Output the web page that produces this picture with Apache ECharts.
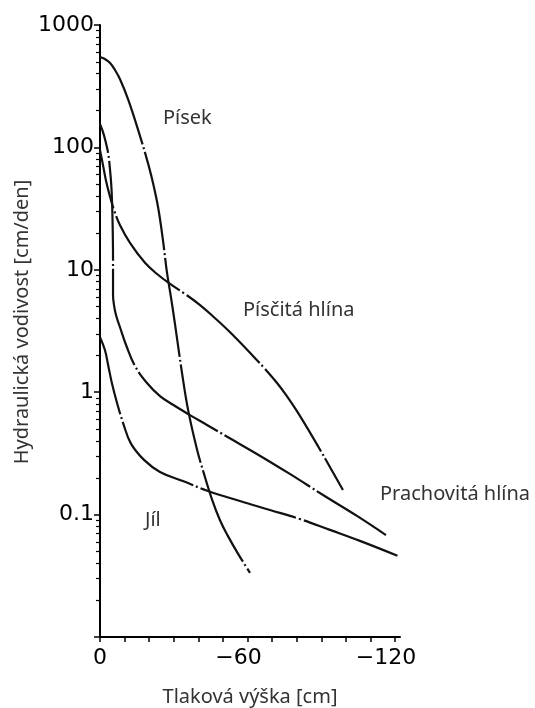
<!DOCTYPE html>
<html><head><meta charset="utf-8">
<script src="https://cdn.jsdelivr.net/npm/echarts@6/dist/echarts.min.js"></script>
<style>html,body{margin:0;padding:0;background:#fff}#c{width:535px;height:708px}</style>
</head><body><div id="c"></div>
<script>
// ---- data: pressure head h [cm] and hydraulic conductivity K [cm/den] ----
const sandH = [0, -2.0, -4.1, -6.1, -8.1, -11.4, -15.4, -18.7, -21.1, -23.6, -25.6, -27.2, -28.9, -30.5, -33.3, -35.8, -39.4, -42.3, -45.5, -48.8, -52.0, -56.1, -61.0];
const sandK = [548, 527, 490, 429, 362, 248, 141, 85, 56, 32.6, 17.5, 9.6, 5.9, 3.6, 1.46, 0.72, 0.344, 0.215, 0.134, 0.090, 0.067, 0.048, 0.0334];

const sandyLoamH = [0, -1.2, -2.4, -4.1, -5.7, -8.1, -12.2, -18.3, -23.2, -28.5, -34.6, -40.7, -46.7, -52.8, -62.2, -67.1, -72.0, -76.0, -80.1, -86.2, -92.3, -98.8];
const sandyLoamK = [95, 72, 54, 39.4, 30.8, 23.2, 16.6, 11.4, 9.24, 7.66, 6.34, 5.15, 4.04, 3.10, 1.98, 1.55, 1.19, 0.93, 0.70, 0.44, 0.27, 0.159];

const siltLoamH = [0, -1.2, -2.4, -3.3, -4.1, -4.7, -5.1, -5.3, -5.3, -5.7, -6.5, -8.1, -10.6, -14.2, -19.1, -24.4, -29.7, -36.6, -43.5, -52.8, -63.8, -77.2, -90.7, -104.5, -116.3];
const siltLoamK = [155, 134, 109, 90, 65, 45, 25.5, 12.0, 6.2, 5.15, 4.27, 3.41, 2.43, 1.64, 1.19, 0.93, 0.79, 0.65, 0.54, 0.42, 0.313, 0.215, 0.1445, 0.0975, 0.068];

const clayH = [0, -2.0, -3.3, -4.9, -6.9, -9.4, -12.6, -17.9, -24.4, -33.7, -43.9, -56.9, -69.1, -81.3, -93.5, -105.7, -121.1];
const clayK = [2.82, 2.21, 1.67, 1.17, 0.82, 0.56, 0.38, 0.28, 0.223, 0.188, 0.156, 0.129, 0.109, 0.092, 0.075, 0.061, 0.046];

const seriesNames = ['Písek', 'Písčitá hlína', 'Prachovitá hlína', 'Jíl'];
const xTickValues = [0, -10, -20, -30, -40, -50, -60, -70, -80, -90, -100, -110, -120];
const xLabelValues = [0, -60, -120];
const yDecades = [0.01, 0.1, 1, 10, 100];
const yMinorMultipliers = [2, 3, 4, 5, 6, 7, 8, 9];
const xTitle = 'Tlaková výška [cm]';
const yTitle = 'Hydraulická vodivost [cm/den]';

// ---- build ----
const zip = (h, k) => h.map((v, i) => [v, k[i]]);
const seriesData = [zip(sandH, sandK), zip(sandyLoamH, sandyLoamK), zip(siltLoamH, siltLoamK), zip(clayH, clayK)];
const minorLogTicks = [];
yDecades.forEach(d => yMinorMultipliers.forEach(m => minorLogTicks.push(Math.log10(d * m))));

const textFont = '"Noto Sans", "Open Sans", sans-serif';
const numFont = '"DejaVu Sans", sans-serif';
const textColor = '#333';
const labelFont = '20px ' + textFont;
const dashOffsets = [0, 40, 70, 20];

const chart = echarts.init(document.getElementById('c'), null, { renderer: 'canvas' });
chart.setOption({
  animation: false,
  backgroundColor: '#fff',
  grid: { left: 100, right: 135, top: 25, bottom: 71, outerBoundsMode: 'none', containLabel: false },
  xAxis: {
    type: 'value', min: -122, max: 0, inverse: true,
    name: xTitle, nameLocation: 'middle', nameGap: 50,
    nameTextStyle: { fontFamily: textFont, fontSize: 20, color: textColor },
    axisLine: { show: true, onZero: false, lineStyle: { color: '#000', width: 2 } },
    axisTick: { show: true, customValues: xTickValues, length: 5, inside: false, lineStyle: { color: '#000', width: 1.5 } },
    axisLabel: {
      customValues: xLabelValues, margin: 10,
      fontFamily: numFont, fontSize: 22, color: '#000',
      formatter: v => v === 0 ? '{d|0}' : '{m|\u2212}{d|' + Math.abs(v) + '}{p|\u00a0}',
      rich: {
        d: { fontFamily: numFont, fontSize: 22, color: '#000' },
        m: { fontFamily: numFont, fontSize: 22, color: '#000' },
        p: { fontFamily: numFont, fontSize: 22, width: 18 }
      }
    },
    splitLine: { show: false }
  },
  yAxis: [{
    type: 'log', logBase: 10, min: 0.01, max: 1000, position: 'left',
    axisLine: { show: true, lineStyle: { color: '#000', width: 2 } },
    axisTick: { show: true, length: 6, inside: false, lineStyle: { color: '#000', width: 1.5 } },
    axisLabel: {
      margin: 6, fontFamily: numFont, fontSize: 22, color: '#000',
      formatter: v => v < 0.05 ? '' : (v >= 1 ? String(Math.round(v)) : String(+v.toPrecision(2)))
    },
    splitLine: { show: false }, minorTick: { show: false }
  }, {
    type: 'value', min: -2, max: 3, position: 'left',
    axisLine: { show: false },
    axisLabel: { show: false },
    axisTick: { show: true, customValues: minorLogTicks, length: 4, inside: false, lineStyle: { color: '#000', width: 1.2 } },
    splitLine: { show: false }
  }],
  series: seriesData.map((d, i) => ({
    name: seriesNames[i], type: 'line', data: d, yAxisIndex: 0,
    showSymbol: false, smooth: 0.4, clip: false,
    lineStyle: { color: '#111', width: 2.2, type: [100, 3, 2, 3], dashOffset: dashOffsets[i] }
  })),
  graphic: [
    { type: 'text', x: 163, y: 118, style: { text: seriesNames[0], font: labelFont, fill: textColor, verticalAlign: 'middle' } },
    { type: 'text', x: 243, y: 310, style: { text: seriesNames[1], font: labelFont, fill: textColor, verticalAlign: 'middle' } },
    { type: 'text', x: 380, y: 494, style: { text: seriesNames[2], font: labelFont, fill: textColor, verticalAlign: 'middle' } },
    { type: 'text', x: 145, y: 520, style: { text: seriesNames[3], font: labelFont, fill: textColor, verticalAlign: 'middle' } },
    { type: 'text', x: 22, y: 322, rotation: Math.PI / 2, style: { text: yTitle, font: labelFont, fill: textColor, align: 'center', verticalAlign: 'middle' } }
  ]
});
</script></body></html>
